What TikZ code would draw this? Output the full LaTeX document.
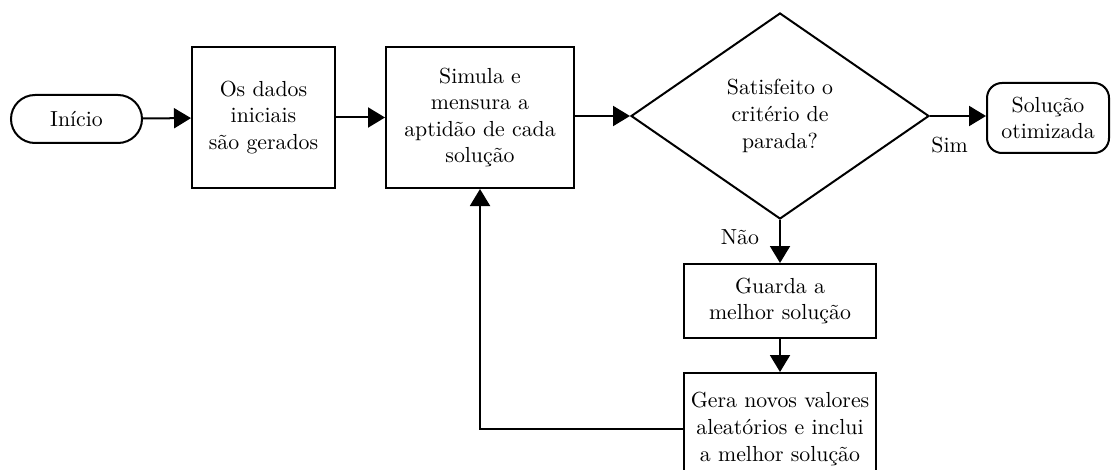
\documentclass[tikz,border=0pt]{standalone}
\usetikzlibrary{arrows.meta,shapes.geometric}
\begin{document}
\begin{tikzpicture}[x=0.5pt,y=-0.5pt,
  font=\fontsize{10.9}{13.3}\selectfont,
  every node/.style={align=center,inner sep=0pt},
  proc/.style={draw,line width=1pt,rectangle},
  term/.style={draw,line width=1pt,rectangle},
  decision/.style={draw,line width=1pt,diamond,aspect=1.45},
  flow/.style={line width=1pt,-{Triangle[length=8.5pt,width=10pt]}}]
\useasboundingbox (0,0) rectangle (1111,470);

% main row
\node[term,rounded corners=12pt,minimum width=65.5pt,minimum height=24pt] (start) at (76.5,119) {Início};
\node[proc,minimum width=71.5pt,minimum height=70.5pt] (data) at (263.5,117.5) {Os dados\\iniciais\\são gerados};
\node[proc,minimum width=94pt,minimum height=70.5pt] (sim) at (480,117.5) {Simula e\\mensura a\\aptidão de cada\\solução};
\node[decision,minimum width=149pt,minimum height=103pt] (dec) at (780,116) {Satisfeito o\\critério de\\parada?};
\node[term,rounded corners=7.5pt,minimum width=61pt,minimum height=35pt] (end) at (1048,118) {Solução\\otimizada};

% loop column
\node[proc,minimum width=96pt,minimum height=37pt] (keep) at (780,301) {Guarda a\\melhor solução};
\node[proc,minimum width=96pt,minimum height=56pt] (gen) at (780,429) {Gera novos valores\\aleatórios e inclui\\a melhor solução};

\draw[flow] (start) -- (data);
\draw[flow] (data) -- (sim);
\draw[flow] (sim.east |- dec.west) -- (dec.west);
\draw[flow] (dec.east) -- (end.west |- dec.east) node[pos=0.35,below=10pt] {Sim};
\draw[flow] (dec.south) -- (keep.north) node[pos=0.4,left=10pt] {Não};
\draw[flow] (keep) -- (gen);
\draw[flow] (gen.west) -| (sim.south);
\end{tikzpicture}
\end{document}
